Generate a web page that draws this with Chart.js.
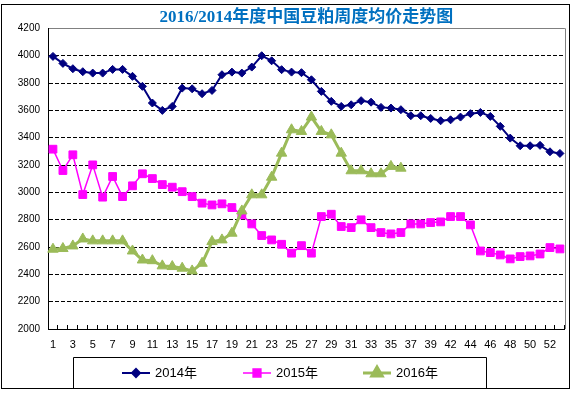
<!DOCTYPE html>
<html>
<head>
<meta charset="utf-8">
<script src="https://cdn.jsdelivr.net/npm/chart.js@4.4.0/dist/chart.umd.min.js"></script>
<style>
  html, body { margin: 0; padding: 0; background: #fff; }
  #wrap { width: 573px; height: 393px; }
</style>
</head>
<body>
<div id="wrap"><canvas id="c" width="573" height="393"></canvas></div>
<script>
// week numbers on the x axis (week 41 is missing in the source)
const weeks = [1, 2, 3, 4, 5, 6, 7, 8, 9, 10, 11, 12, 13, 14, 15, 16, 17, 18, 19, 20,
  21, 22, 23, 24, 25, 26, 27, 28, 29, 30, 31, 32, 33, 34, 35, 36, 37, 38, 39, 40,
  42, 43, 44, 45, 46, 47, 48, 49, 50, 51, 52, 53];

const price2014 = [3995, 3944, 3905, 3883, 3873, 3873, 3900, 3900, 3849, 3776,
  3654, 3600, 3629, 3763, 3758, 3722, 3746, 3861, 3880, 3873,
  3917, 4000, 3963, 3898, 3880, 3876, 3824, 3739, 3666, 3629,
  3641, 3671, 3660, 3622, 3617, 3605, 3561, 3561, 3541, 3524,
  3531, 3551, 3576, 3585, 3556, 3483, 3397, 3341, 3341, 3344, 3297, 3285];

const price2015 = [3316, 3160, 3275, 2984, 3201, 2965, 3116, 2969, 3048, 3136,
  3101, 3057, 3038, 3005, 2969, 2921, 2908, 2916, 2889, 2835,
  2769, 2684, 2652, 2620, 2555, 2610, 2555, 2823, 2840, 2750,
  2742, 2799, 2742, 2706, 2696, 2706, 2769, 2769, 2779, 2784,
  2823, 2823, 2762, 2571, 2559, 2542, 2513, 2530, 2535, 2549, 2596, 2586];

const price2016 = [2584, 2589, 2608, 2659, 2645, 2645, 2645, 2645, 2571, 2505,
  2500, 2462, 2457, 2445, 2425, 2481, 2640, 2652, 2701, 2864,
  2982, 2982, 3111, 3287, 3458, 3446, 3551, 3446, 3421, 3287,
  3158, 3158, 3136, 3136, 3190, 3177];

const seriesNames = ['2014年', '2015年', '2016年'];
const yMin = 2000, yMax = 4200, yStep = 200;

// frame, plot border and the boxed legend
const decorations = {
  id: 'decorations',
  beforeDraw(chart) {
    const ctx = chart.ctx;
    ctx.save();
    ctx.fillStyle = '#fff';
    ctx.fillRect(0, 0, chart.width, chart.height);
    ctx.restore();
  },
  afterDraw(chart) {
    const ctx = chart.ctx;
    const a = chart.chartArea;
    ctx.save();
    // gray right edge of the plot
    ctx.strokeStyle = '#808080';
    ctx.lineWidth = 1;
    ctx.beginPath();
    ctx.moveTo(Math.round(a.right) + 0.5, a.top);
    ctx.lineTo(Math.round(a.right) + 0.5, a.bottom);
    ctx.stroke();

    // outer frame
    ctx.strokeStyle = '#000';
    ctx.strokeRect(1.5, 4.5, 568, 384);

    // legend box
    ctx.beginPath();
    ctx.moveTo(73.5, 388.5);
    ctx.lineTo(73.5, 357.5);
    ctx.lineTo(486.5, 357.5);
    ctx.lineTo(486.5, 388.5);
    ctx.stroke();

    // legend items
    const itemX = [122, 243, 363];
    const ly = 373;
    chart.data.datasets.forEach((ds, i) => {
      const x0 = itemX[i];
      ctx.strokeStyle = ds.borderColor;
      ctx.lineWidth = ds.borderWidth;
      ctx.beginPath();
      ctx.moveTo(x0, ly);
      ctx.lineTo(x0 + 28, ly);
      ctx.stroke();
      ctx.fillStyle = ds.backgroundColor;
      ctx.strokeStyle = ds.borderColor;
      Chart.helpers.drawPoint(ctx, {
        pointStyle: ds.pointStyle,
        radius: ds.pointRadius,
        rotation: 0,
        borderWidth: 1
      }, x0 + 14, ly);
      ctx.fillStyle = '#000';
      ctx.font = '13px "Liberation Sans", "Noto Sans CJK SC", sans-serif';
      ctx.textBaseline = 'middle';
      ctx.textAlign = 'left';
      ctx.fillText(ds.label, x0 + 33, ly);
    });
    ctx.restore();
  }
};

new Chart(document.getElementById('c').getContext('2d'), {
  type: 'line',
  data: {
    labels: weeks,
    datasets: [{
      label: seriesNames[0],
      data: price2014,
      borderColor: '#000080',
      backgroundColor: '#000080',
      borderWidth: 2,
      pointStyle: 'rectRot',
      pointRadius: 4,
      pointBorderWidth: 1,
      tension: 0,
      order: 2
    }, {
      label: seriesNames[1],
      data: price2015,
      borderColor: '#FF00FF',
      backgroundColor: '#FF00FF',
      borderWidth: 1.5,
      pointStyle: 'rect',
      pointRadius: 5.5,
      pointBorderWidth: 1,
      tension: 0,
      order: 1
    }, {
      label: seriesNames[2],
      data: price2016,
      borderColor: '#9BBB59',
      backgroundColor: '#9BBB59',
      borderWidth: 3,
      pointStyle: 'triangle',
      pointRadius: 6,
      pointBorderWidth: 1,
      tension: 0,
      order: 0
    }]
  },
  options: {
    responsive: false,
    animation: false,
    layout: {
      padding: { top: 3, left: 8, right: 6, bottom: 0 }
    },
    scales: {
      x: {
        offset: true,
        afterFit: (s) => { s.height = 64; },
        grid: {
          offset: true,
          drawOnChartArea: false,
          drawTicks: true,
          tickLength: -4,
          color: '#000'
        },
        border: { color: '#000', width: 1 },
        ticks: {
          autoSkip: false,
          maxRotation: 0,
          padding: 13,
          color: '#000',
          font: { family: '"Liberation Sans", sans-serif', size: 11 },
          callback: function (v, i) {
            return i % 2 === 0 ? String(this.getLabelForValue(v)) : '';
          }
        }
      },
      y: {
        min: yMin,
        max: yMax,
        afterFit: (s) => { s.width = 40; },
        grid: {
          drawTicks: false,
          color: (c) => (c.tick && c.tick.value === yMax ? '#808080' : '#000'),
          lineWidth: 1
        },
        border: {
          color: '#000',
          width: 1,
          dash: (c) => (c.tick && (c.tick.value === yMax || c.tick.value === yMin) ? [] : [4, 2])
        },
        ticks: {
          stepSize: yStep,
          padding: 8,
          color: '#000',
          font: { family: '"Liberation Sans", sans-serif', size: 10 },
          callback: (v) => String(v)
        }
      }
    },
    plugins: {
      legend: { display: false },
      tooltip: { enabled: false },
      title: {
        display: true,
        fullSize: false,
        text: '2016/2014年度中国豆粕周度均价走势图',
        color: '#0070C0',
        font: { family: '"Liberation Serif", "Noto Sans CJK SC", serif', size: 17, weight: 'bold', lineHeight: 1.2 },
        padding: { top: 4, bottom: 1 }
      }
    }
  },
  plugins: [decorations]
});
</script>
</body>
</html>
